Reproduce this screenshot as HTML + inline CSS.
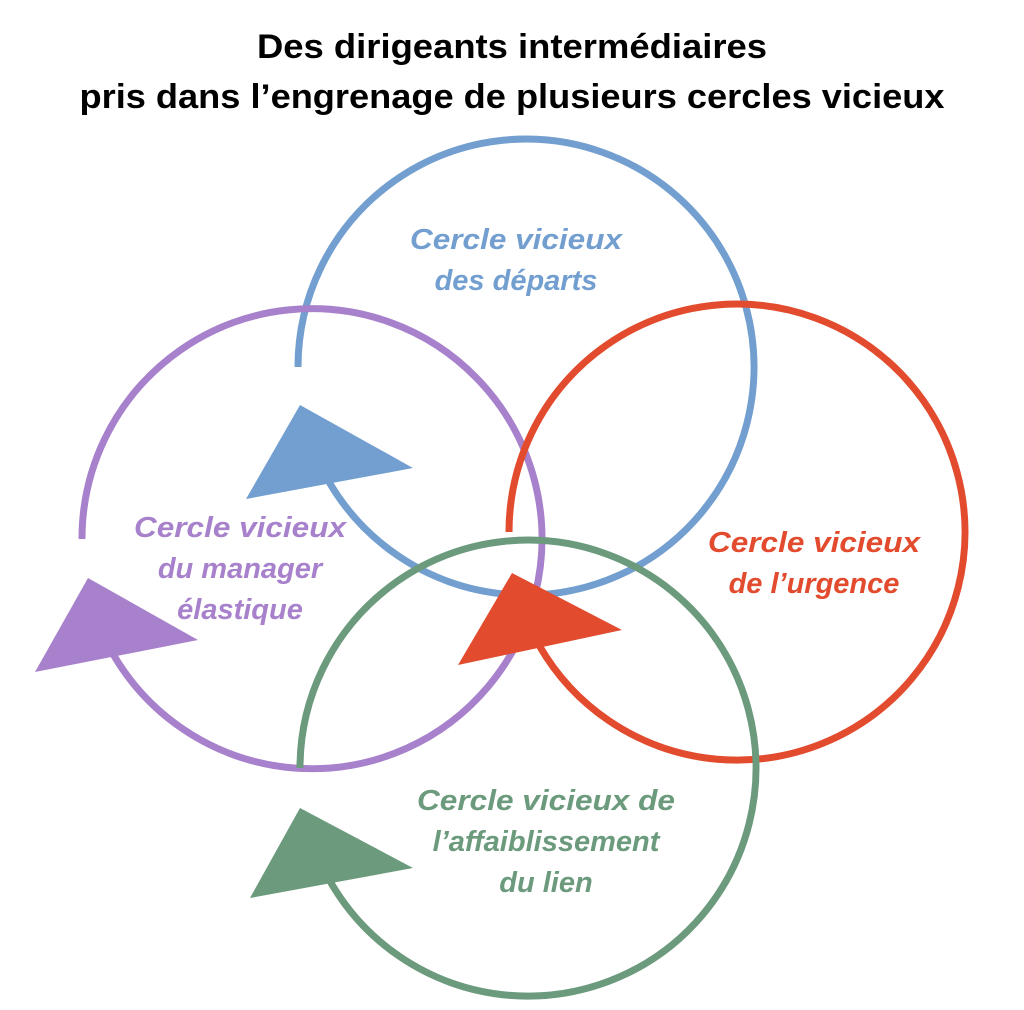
<!DOCTYPE html>
<html><head><meta charset="utf-8"><style>html,body{margin:0;padding:0;background:#fff}svg{display:block}</style></head>
<body>
<svg width="1024" height="1010" viewBox="0 0 1024 1010" xmlns="http://www.w3.org/2000/svg">
<g font-family="Liberation Sans, sans-serif" font-weight="bold" text-anchor="middle">
<text x="512" y="58" font-size="34" textLength="510" lengthAdjust="spacingAndGlyphs">Des dirigeants intermédiaires</text>
<text x="512" y="108" font-size="34" textLength="865" lengthAdjust="spacingAndGlyphs">pris dans l’engrenage de plusieurs cercles vicieux</text>
</g>
<g fill="none" stroke-width="7">
<path d="M298,367 A228,228 0 1 1 328.5,481" stroke="#729fcf"/>
<path d="M82,539 A230,230 0 1 1 113,654" stroke="#a781cb"/>
<path d="M509,532 A228,228 0 1 1 539.5,646" stroke="#e24b2d"/>
<path d="M300,768 A228,228 0 1 1 330.5,882" stroke="#6b9a7c"/>
</g>
<polygon points="300,405 413,468 246,499" fill="#729fcf"/>
<polygon points="88,578 198,640 35,672" fill="#a781cb"/>
<polygon points="512,573 622,630 458,665" fill="#e24b2d"/>
<polygon points="300,808 413,868 250,898" fill="#6b9a7c"/>
<g font-family="Liberation Sans, sans-serif" font-weight="bold" font-style="italic" font-size="29" text-anchor="middle">
<g fill="#729fcf"><text x="516" y="249" textLength="212" lengthAdjust="spacingAndGlyphs">Cercle vicieux</text><text x="516" y="290">des départs</text></g>
<g fill="#a781cb"><text x="240" y="537" textLength="212" lengthAdjust="spacingAndGlyphs">Cercle vicieux</text><text x="240" y="578">du manager</text><text x="240" y="619">élastique</text></g>
<g fill="#e24b2d"><text x="814" y="552" textLength="212" lengthAdjust="spacingAndGlyphs">Cercle vicieux</text><text x="814" y="593">de l’urgence</text></g>
<g fill="#6b9a7c"><text x="546" y="810" textLength="258" lengthAdjust="spacingAndGlyphs">Cercle vicieux de</text><text x="546" y="851">l’affaiblissement</text><text x="546" y="892">du lien</text></g>
</g>
</svg>
</body></html>
